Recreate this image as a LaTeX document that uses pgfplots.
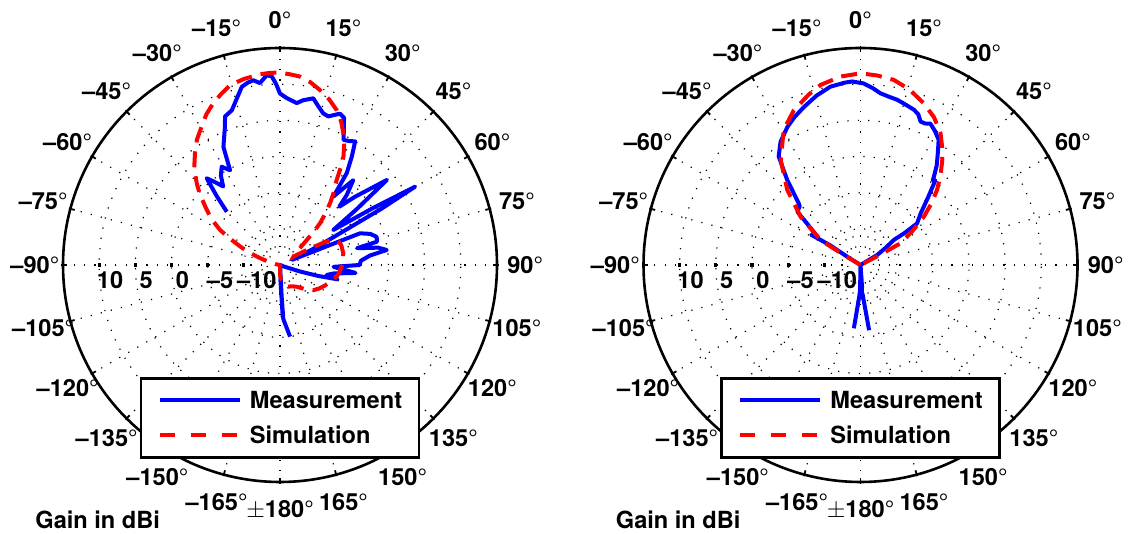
\documentclass[border=0pt]{standalone}
\usepackage{fontspec}
\setmainfont{TeX Gyre Heros}
\usepackage{pgfplots}
\usepackage{pgfplotstable}
\pgfplotsset{compat=1.18}

% angle t in degrees (clockwise from top), gain g in dBi; centre of the chart is -15 dBi
\pgfplotstableread{
t g
-45 -4.6
-42.5 -2
-40.2 0.7
-38 -0.5
-35.9 -1.6
-33.5 -0.2
-30.7 0.8
-27.8 -0.2
-25.6 3.1
-21.7 5.6
-20.3 6.9
-17.3 7.4
-14.5 8.8
-12.1 10.2
-10 10.6
-8.2 10.8
-6.3 10.3
-4 11.3
-2.5 11.1
-1.2 10.0
0 8.7
2.3 8.1
5.9 7.5
8 8.0
11.3 8.5
13.5 7.6
15.9 6.8
18 6.6
21.6 7.5
23.5 7.2
25.5 5.5
26.9 4.4
29 4.6
31.3 5.0
33.5 3.0
36 0.7
38 -3.0
40.8 0.5
43.6 -1.6
45.5 -3.5
47.7 -1.0
51.5 3.9
54 -2
56.7 -6.2
58.5 0
59.9 6.6
61 1
62.5 -6.6
64 -9.5
66.8 -13.2
68.4 -3.1
71 -1.8
73.7 -1.1
76.5 -1.2
77.7 -4.1
80 -1.2
82 -0.1
84 -2.5
87 -3.8
90 -4.0
92 -7.6
96 -4.5
99 -7.5
102 -8.4
104 -6.8
106 -9.5
108 -12.1
112 -14.5
140 -15
165 -15
177 -7.8
178.5 -13
176.5 -7.5
172 -5.0
}\measA

\pgfplotstableread{
t g
-180 -13.5
-175 -15
-160 -15
-120 -15
-90 -15
-80 -14.5
-75 -13.5
-72 -12.6
-70 -11.6
-67.5 -10.2
-65 -8.9
-62 -7
-59.7 -5.4
-56 -3.5
-52 -1.9
-48.5 -0.2
-45.6 1.1
-41.5 2.9
-37.3 4.4
-33.5 5.8
-29.5 7.0
-26 8.2
-22.4 9.2
-19 10.0
-15.5 10.8
-11 11.2
-6 11.5
-3 11.6
0 11.6
3 11.4
6 11.2
9.5 10.6
12.9 9.8
16.5 8.9
20.1 7.8
23 6.6
25.7 5.2
28 3.9
30.3 2.4
32 0.8
33.7 -0.9
36.5 -2.5
39 -4.0
41.5 -5.6
43.8 -7.0
45.5 -8.6
46.9 -9.9
50 -11.5
54 -12.5
58 -12.8
61 -10.5
63 -8
64.9 -6.9
68 -6.3
72 -6.1
79.5 -6.1
86 -6.3
92 -6.5
98 -6.8
101.7 -7.0
108 -7.6
115 -8.2
121 -8.7
126.9 -9.2
134 -10.2
142.4 -11.2
150 -11.6
159 -11.8
165 -12.3
170 -12.6
175 -13
180 -13.5
}\simA

\pgfplotstableread{
t g
-174 -6.2
-177.5 -10.5
-179 -11.5
-170 -15
-100 -15
-62 -15
-58 -12.8
-57 -10
-58.5 -7.0
-56.8 -7.9
-52 -5.5
-49.9 -3.6
-46 -3.3
-45 -2.9
-40.8 0.5
-37 3.8
-33 5.3
-27.9 6.6
-24 7.4
-19.7 8.2
-14.5 9.2
-9.6 10.0
-5 10.3
-2.6 10.4
1 10.1
4 9.5
6.6 8.9
9.5 8.6
12.5 8.4
16 8.0
19 7.7
21 7.3
22.7 6.5
24.5 6.5
26.3 6.8
29 6.2
32 5.4
35 3.6
37.5 2.3
39.7 0.9
40.5 0.4
41.5 0.6
45 -1.8
49.3 -4.0
53.7 -5.3
54 -7.5
53.1 -9.2
56 -11
59 -12.3
62 -15
170 -15
176 -12
178 -10.5
176 -11
172.5 -5.9
}\measB

\pgfplotstableread{
t g
-180 -15
-70 -15
-62 -15
-59 -12
-58 -8.5
-51.2 -4.4
-44.3 -0.5
-37.3 3.2
-29.6 6.5
-23.3 8.3
-17 9.6
-12.5 10.5
-6 11.2
0 11.5
5 11.3
10.2 11.0
15.5 10.2
21.4 9.0
26.5 7.8
31.3 6.3
34.5 4.9
37.9 3.4
41.8 1.6
45.6 -0.2
49 -2
52.7 -4.0
57 -6.5
61.5 -8.7
62.5 -12
63.5 -15
180 -15
}\simB

\tikzset{gridline/.style={black, line width=0.6pt, dash pattern=on 0.6pt off 4.6pt}}
\newcommand{\dg}{{\mdseries °}}

% grid, frame and labels of one polar panel, drawn round (0,0); 1 dB = 3.6167pt
\newcommand{\polarframe}{%
  \foreach \r in {6.51,18.08,36.17,54.25,72.33,90.42}{\draw[gridline] (0,0) circle[radius=\r pt];}
  \foreach \a in {0,15,...,345}{\draw[gridline] ({90-\a}:9pt) -- ({90-\a}:108.5pt);}
  \draw[line width=1.3pt] (0,0) circle[radius=108.5pt];
  \foreach \a in {0,15,...,345}{\draw[line width=0.9pt] ({90-\a}:109.3pt) -- ({90-\a}:106.3pt);}
  \foreach \a/\lab in {0/0,15/15,30/30,45/45,60/60,75/75,90/90,105/105,120/120,135/135,150/150,165/165,
      180/{$\pm$180},-165/--165,-150/--150,-135/--135,-120/--120,-105/--105,-90/--90,-75/--75,
      -60/--60,-45/--45,-30/--30,-15/--15}{\node[inner sep=0pt] at ({90-\a}:122.6pt) {\lab\dg};}
  \foreach \r in {1,...,5}{\fill ({-\r*18.083pt-0.8pt},-0.8pt) rectangle ++(1.6pt,1.6pt);}
  \foreach \x/\lab in {-85.0/10,-66.9/5,-48.8/0,-30.0/--5,-11.6/--10}{\node[inner sep=0pt] at (\x pt,-7.5pt) {\lab};}
  \node[inner sep=0pt, anchor=base west] at (-122.5pt,-132pt) {Gain in dBi};
}

\pgfplotsset{polarpanel/.style={anchor=center, x=3.6167pt, y=3.6167pt,
  xmin=-30, xmax=30, ymin=-30, ymax=30, hide axis, clip=false,
  legend cell align=left,
  legend style={at={(0.5,0.2417)}, anchor=north, draw=black, line width=1.3pt, fill=white,
    inner xsep=8.5pt, inner ysep=6.75pt, row sep=9pt, column sep=4pt,
    nodes={inner sep=0pt, text height=8.5pt, text depth=0pt}}},
  meas/.style={blue, line width=2pt, line join=round,
    legend image code/.code={\draw[##1] (0pt,0pt) -- (40pt,0pt);}},
  sim/.style={red, line width=2pt, dash pattern=on 8pt off 4.5pt,
    legend image code/.code={\draw[##1, dash pattern=on 7.5pt off 8pt] (0pt,0pt) -- (39pt,0pt);}},
  /pgfplots/table/polar data/.style={
    /pgfplots/table/x expr={(max(\thisrow{g},-15)+15)*sin(\thisrow{t})},
    /pgfplots/table/y expr={(max(\thisrow{g},-15)+15)*cos(\thisrow{t})}}}

\begin{document}
\fontsize{11.8}{14.2}\selectfont\bfseries
\begin{tikzpicture}
\useasboundingbox (0,0) rectangle (564pt,267pt);
\begin{scope}[shift={(140pt,134.5pt)}] \polarframe \end{scope}
\begin{scope}[shift={(430.25pt,134.5pt)}] \polarframe \end{scope}

\begin{axis}[polarpanel, at={(140pt,134.5pt)}]
\addplot[meas] table[polar data] {\measA};
\addlegendentry{Measurement}
\addplot[sim] table[polar data] {\simA};
\addlegendentry{Simulation}
\end{axis}

\begin{axis}[polarpanel, at={(430.25pt,134.5pt)}]
\addplot[meas] table[polar data] {\measB};
\addlegendentry{Measurement}
\addplot[sim] table[polar data] {\simB};
\addlegendentry{Simulation}
\end{axis}
\end{tikzpicture}
\end{document}
